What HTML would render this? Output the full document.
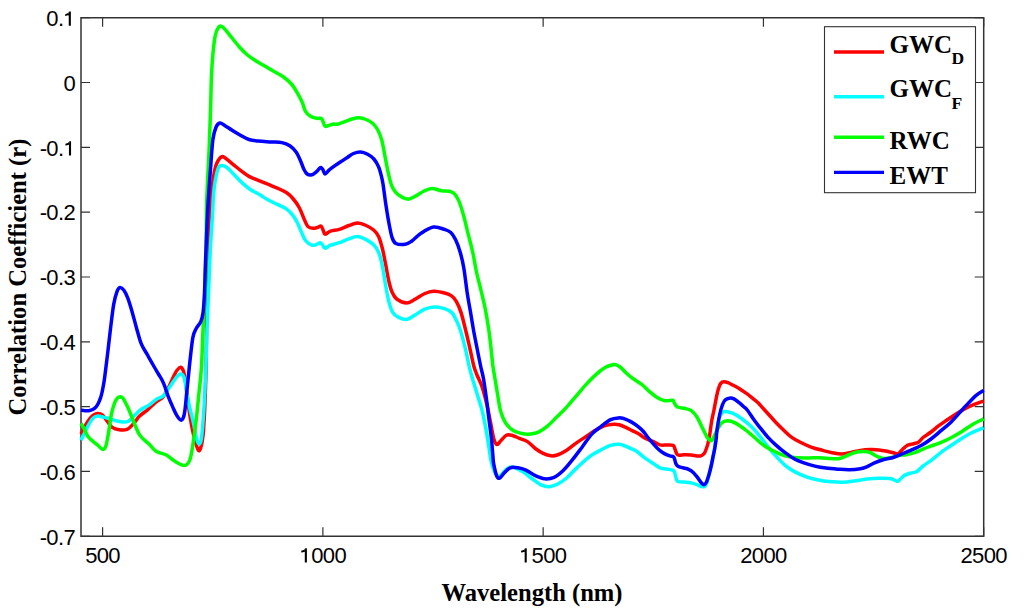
<!DOCTYPE html>
<html><head><meta charset="utf-8"><style>
html,body{margin:0;padding:0;background:#fff;width:1024px;height:612px;overflow:hidden}
svg{display:block}
text{opacity:0.999}
.t{font-family:"Liberation Sans",sans-serif;font-size:22px;fill:#000;letter-spacing:-0.65px}
.b{font-family:"Liberation Serif",serif;font-weight:bold;font-size:25px;fill:#000}
.a{font-family:"Liberation Serif",serif;font-weight:bold;font-size:24.6px;fill:#000}
.s{font-family:"Liberation Serif",serif;font-weight:bold;font-size:17.5px;fill:#000}
</style></head><body>
<svg width="1024" height="612" viewBox="0 0 1024 612">
<rect width="1024" height="612" fill="#fff"/>
<path d="M81.0,17.70h9M983.7,17.70h-9M81.0,82.52h9M983.7,82.52h-9M81.0,147.35h9M983.7,147.35h-9M81.0,212.17h9M983.7,212.17h-9M81.0,277.00h9M983.7,277.00h-9M81.0,341.82h9M983.7,341.82h-9M81.0,406.65h9M983.7,406.65h-9M81.0,471.47h9M983.7,471.47h-9M81.0,536.30h9M983.7,536.30h-9M102.60,536.3v-9M102.60,17.7v9M322.88,536.3v-9M322.88,17.7v9M543.15,536.3v-9M543.15,17.7v9M763.43,536.3v-9M763.43,17.7v9M983.70,536.3v-9M983.70,17.7v9" stroke="#333" stroke-width="1.2" fill="none"/>
<path d="M81.0,17.7H983.7V536.3H81.0Z" stroke="#333" stroke-width="1.5" fill="none"/>
<text x="75" y="26.00" text-anchor="end" class="t">0.<tspan fill="transparent">1</tspan></text>
<text x="75" y="90.82" text-anchor="end" class="t">0</text>
<text x="75" y="155.65" text-anchor="end" class="t">-0.<tspan fill="transparent">1</tspan></text>
<text x="75" y="220.47" text-anchor="end" class="t">-0.2</text>
<text x="75" y="285.30" text-anchor="end" class="t">-0.3</text>
<text x="75" y="350.12" text-anchor="end" class="t">-0.4</text>
<text x="75" y="414.95" text-anchor="end" class="t">-0.5</text>
<text x="75" y="479.77" text-anchor="end" class="t">-0.6</text>
<text x="75" y="544.60" text-anchor="end" class="t">-0.7</text>
<text x="102.60" y="562.8" text-anchor="middle" class="t">500</text>
<text x="322.88" y="562.8" text-anchor="middle" class="t"><tspan fill="transparent">1</tspan>000</text>
<text x="543.15" y="562.8" text-anchor="middle" class="t"><tspan fill="transparent">1</tspan>500</text>
<text x="763.43" y="562.8" text-anchor="middle" class="t">2000</text>
<text x="983.70" y="562.8" text-anchor="middle" class="t">2500</text>
<path fill="#000" d="M68.75,11.60H70.85V25.70H68.75ZM69.20,11.60Q68.20,13.90 65.20,14.20V15.90Q67.40,15.80 68.75,15.00ZM68.95,141.20H71.05V155.40H68.95ZM69.40,141.20Q68.40,143.50 65.40,143.80V145.50Q67.60,145.40 68.95,144.60ZM304.80,548.20H306.90V562.60H304.80ZM305.25,548.20Q304.25,550.50 301.25,550.80V552.50Q303.45,552.40 304.80,551.60ZM524.65,548.20H526.75V562.60H524.65ZM525.10,548.20Q524.10,550.50 521.10,550.80V552.50Q523.30,552.40 524.65,551.60Z"/>
<path d="M81.00,434.20 C81.48,433.22 82.77,430.42 83.90,428.30 C85.03,426.18 86.33,423.62 87.80,421.50 C89.27,419.38 91.07,416.95 92.70,415.60 C94.33,414.25 95.97,413.48 97.60,413.40 C99.23,413.32 100.87,413.75 102.50,415.10 C104.13,416.45 105.77,419.45 107.40,421.50 C109.03,423.55 110.33,426.02 112.30,427.40 C114.27,428.78 116.73,429.47 119.20,429.80 C121.67,430.13 124.75,430.38 127.10,429.40 C129.45,428.42 131.22,426.12 133.30,423.90 C135.38,421.68 137.23,418.45 139.60,416.10 C141.97,413.75 144.68,412.20 147.50,409.80 C150.32,407.40 153.90,403.87 156.50,401.70 C159.10,399.53 160.92,399.53 163.10,396.80 C165.28,394.07 167.57,389.25 169.60,385.30 C171.63,381.35 173.53,376.08 175.30,373.10 C177.07,370.12 178.83,367.68 180.20,367.40 C181.57,367.12 182.55,368.55 183.50,371.40 C184.45,374.25 185.08,378.77 185.90,384.50 C186.72,390.23 187.45,398.98 188.40,405.80 C189.35,412.62 190.52,419.68 191.60,425.40 C192.68,431.12 193.80,436.02 194.90,440.10 C196.00,444.18 197.25,448.55 198.20,449.90 C199.15,451.25 199.78,450.67 200.60,448.20 C201.42,445.73 202.42,441.63 203.10,435.10 C203.78,428.57 204.22,419.85 204.70,409.00 C205.18,398.15 205.70,383.17 206.00,370.00 C206.30,356.83 206.40,343.33 206.50,330.00 C206.60,316.67 206.43,303.33 206.60,290.00 C206.77,276.67 207.02,262.50 207.50,250.00 C207.98,237.50 208.98,223.17 209.50,215.00 C210.02,206.83 209.90,207.57 210.60,201.00 C211.30,194.43 212.65,181.93 213.70,175.60 C214.75,169.27 215.58,166.13 216.90,163.00 C218.22,159.87 220.17,157.58 221.60,156.80 C223.03,156.02 223.55,157.00 225.50,158.30 C227.45,159.60 230.68,162.50 233.30,164.60 C235.92,166.70 238.58,168.93 241.20,170.90 C243.82,172.87 246.13,174.83 249.00,176.40 C251.87,177.97 255.27,179.00 258.40,180.30 C261.53,181.60 264.65,182.90 267.80,184.20 C270.95,185.50 274.15,186.67 277.30,188.10 C280.45,189.53 284.10,191.07 286.70,192.80 C289.30,194.53 290.82,196.05 292.90,198.50 C294.98,200.95 297.37,204.17 299.20,207.50 C301.03,210.83 302.47,215.35 303.90,218.50 C305.33,221.65 306.23,224.77 307.80,226.40 C309.37,228.03 311.60,228.17 313.30,228.30 C315.00,228.43 316.68,227.57 318.00,227.20 C319.32,226.83 320.28,225.45 321.20,226.10 C322.12,226.75 322.85,229.75 323.50,231.10 C324.15,232.45 323.92,234.20 325.10,234.20 C326.28,234.20 328.22,231.90 330.60,231.10 C332.98,230.30 336.37,230.33 339.40,229.40 C342.43,228.47 345.78,226.55 348.80,225.50 C351.82,224.45 354.62,223.10 357.50,223.10 C360.38,223.10 363.37,224.32 366.10,225.50 C368.83,226.68 371.82,228.37 373.90,230.20 C375.98,232.03 377.17,233.37 378.60,236.50 C380.03,239.63 381.32,244.30 382.50,249.00 C383.68,253.70 384.65,259.37 385.70,264.70 C386.75,270.03 387.75,276.45 388.80,281.00 C389.85,285.55 390.68,289.00 392.00,292.00 C393.32,295.00 394.22,297.18 396.70,299.00 C399.18,300.82 403.77,302.90 406.90,302.90 C410.03,302.90 412.50,300.57 415.50,299.00 C418.50,297.43 421.90,294.80 424.90,293.50 C427.90,292.20 430.37,291.33 433.50,291.20 C436.63,291.07 440.68,291.92 443.70,292.70 C446.72,293.48 449.50,294.45 451.60,295.90 C453.70,297.35 454.73,298.65 456.30,301.40 C457.87,304.15 459.45,307.63 461.00,312.40 C462.55,317.17 464.13,324.07 465.60,330.00 C467.07,335.93 468.43,342.00 469.80,348.00 C471.17,354.00 472.60,361.50 473.80,366.00 C475.00,370.50 475.63,371.55 477.00,375.00 C478.37,378.45 480.38,381.88 482.00,386.70 C483.62,391.52 485.27,397.90 486.70,403.90 C488.13,409.90 489.43,416.95 490.60,422.70 C491.77,428.45 492.65,434.77 493.70,438.40 C494.75,442.03 495.72,444.10 496.90,444.50 C498.08,444.90 499.23,442.33 500.80,440.80 C502.37,439.27 504.47,436.22 506.30,435.30 C508.13,434.38 509.58,434.78 511.80,435.30 C514.02,435.82 516.98,437.35 519.60,438.40 C522.22,439.45 524.88,439.92 527.50,441.60 C530.12,443.28 532.70,446.55 535.30,448.50 C537.90,450.45 540.48,452.08 543.10,453.30 C545.72,454.52 548.63,455.52 551.00,455.80 C553.37,456.08 554.68,455.93 557.30,455.00 C559.92,454.07 563.57,452.18 566.70,450.20 C569.83,448.22 572.97,445.32 576.10,443.10 C579.23,440.88 582.37,438.98 585.50,436.90 C588.63,434.82 591.77,432.43 594.90,430.60 C598.03,428.77 601.17,426.95 604.30,425.90 C607.43,424.85 611.23,424.48 613.70,424.30 C616.17,424.12 617.17,424.32 619.10,424.80 C621.03,425.28 623.12,426.23 625.30,427.20 C627.48,428.17 629.92,429.47 632.20,430.60 C634.48,431.73 637.07,432.85 639.00,434.00 C640.93,435.15 642.08,436.47 643.80,437.50 C645.52,438.53 647.47,439.40 649.30,440.20 C651.13,441.00 653.02,441.52 654.80,442.30 C656.58,443.08 658.05,444.43 660.00,444.90 C661.95,445.37 664.32,445.03 666.50,445.10 C668.68,445.17 671.73,444.78 673.10,445.30 C674.47,445.82 674.15,446.90 674.70,448.20 C675.25,449.50 675.78,451.95 676.40,453.10 C677.02,454.25 677.05,454.83 678.40,455.10 C679.75,455.37 682.38,454.73 684.50,454.70 C686.62,454.67 689.05,454.70 691.10,454.90 C693.15,455.10 695.17,455.73 696.80,455.90 C698.43,456.07 699.67,456.30 700.90,455.90 C702.13,455.50 703.32,454.65 704.20,453.50 C705.08,452.35 705.60,450.57 706.20,449.00 C706.80,447.43 707.28,446.10 707.80,444.10 C708.32,442.10 709.00,438.40 709.30,437.00 C709.60,435.60 709.18,438.48 709.60,435.70 C710.02,432.92 711.10,424.42 711.80,420.30 C712.50,416.18 713.17,414.13 713.80,411.00 C714.43,407.87 715.00,404.57 715.60,401.50 C716.20,398.43 716.82,395.05 717.40,392.60 C717.98,390.15 718.52,388.37 719.10,386.80 C719.68,385.23 720.12,384.03 720.90,383.20 C721.68,382.37 722.63,381.90 723.80,381.80 C724.97,381.70 726.33,382.02 727.90,382.60 C729.47,383.18 731.33,384.32 733.20,385.30 C735.07,386.28 737.13,387.32 739.10,388.50 C741.07,389.68 743.03,391.02 745.00,392.40 C746.97,393.78 748.82,395.15 750.90,396.80 C752.98,398.45 755.98,400.95 757.50,402.30 C759.02,403.65 758.28,403.03 760.00,404.90 C761.72,406.77 765.18,410.62 767.80,413.50 C770.42,416.38 773.08,419.45 775.70,422.20 C778.32,424.95 780.88,427.52 783.50,430.00 C786.12,432.48 788.52,435.02 791.40,437.10 C794.28,439.18 797.40,440.80 800.80,442.50 C804.20,444.20 808.15,445.98 811.80,447.30 C815.45,448.62 819.30,449.50 822.70,450.40 C826.10,451.30 829.05,452.10 832.20,452.70 C835.35,453.30 838.47,454.05 841.60,454.00 C844.73,453.95 847.87,453.00 851.00,452.40 C854.13,451.80 857.27,450.87 860.40,450.40 C863.53,449.93 866.67,449.68 869.80,449.60 C872.93,449.52 876.32,449.62 879.20,449.90 C882.08,450.18 884.75,450.82 887.10,451.30 C889.45,451.78 891.48,452.37 893.30,452.80 C895.12,453.23 896.43,454.50 898.00,453.90 C899.57,453.30 901.12,450.63 902.70,449.20 C904.28,447.77 905.67,446.22 907.50,445.30 C909.33,444.38 911.88,444.22 913.70,443.70 C915.52,443.18 916.83,443.23 918.40,442.20 C919.97,441.17 921.00,439.20 923.10,437.50 C925.20,435.80 928.38,433.97 931.00,432.00 C933.62,430.03 936.18,427.67 938.80,425.70 C941.42,423.73 943.82,422.17 946.70,420.20 C949.58,418.23 952.97,415.87 956.10,413.90 C959.23,411.93 962.37,410.02 965.50,408.40 C968.63,406.78 971.88,405.42 974.90,404.20 C977.92,402.98 982.15,401.62 983.60,401.10" stroke="#ff0000" stroke-width="3.5" fill="none" stroke-linejoin="round" stroke-linecap="butt"/>
<path d="M81.00,440.10 C81.65,438.80 83.60,434.92 84.90,432.30 C86.20,429.68 87.50,426.70 88.80,424.40 C90.10,422.10 91.23,419.88 92.70,418.50 C94.17,417.12 95.80,416.33 97.60,416.10 C99.40,415.87 101.37,416.62 103.50,417.10 C105.63,417.58 108.12,418.35 110.40,419.00 C112.68,419.65 115.08,420.50 117.20,421.00 C119.32,421.50 121.30,421.92 123.10,422.00 C124.90,422.08 126.55,422.10 128.00,421.50 C129.45,420.90 129.87,420.22 131.80,418.40 C133.73,416.58 136.73,412.82 139.60,410.60 C142.47,408.38 146.18,407.00 149.00,405.10 C151.82,403.20 154.15,400.72 156.50,399.20 C158.85,397.68 160.92,398.03 163.10,396.00 C165.28,393.97 167.57,389.87 169.60,387.00 C171.63,384.13 173.53,380.98 175.30,378.80 C177.07,376.62 178.70,374.03 180.20,373.90 C181.70,373.77 183.22,374.87 184.30,378.00 C185.38,381.13 185.75,387.53 186.70,392.70 C187.65,397.87 188.90,404.10 190.00,409.00 C191.10,413.90 192.22,417.20 193.30,422.10 C194.38,427.00 195.55,434.73 196.50,438.40 C197.45,442.07 198.18,444.10 199.00,444.10 C199.82,444.10 200.58,444.25 201.40,438.40 C202.22,432.55 203.17,420.40 203.90,409.00 C204.63,397.60 205.28,383.17 205.80,370.00 C206.32,356.83 206.50,344.00 207.00,330.00 C207.50,316.00 208.25,299.33 208.80,286.00 C209.35,272.67 209.68,261.83 210.30,250.00 C210.92,238.17 211.97,224.17 212.50,215.00 C213.03,205.83 213.03,200.78 213.50,195.00 C213.97,189.22 214.48,184.85 215.30,180.30 C216.12,175.75 217.22,170.18 218.40,167.70 C219.58,165.22 220.95,165.40 222.40,165.40 C223.85,165.40 225.02,166.00 227.10,167.70 C229.18,169.40 232.30,172.98 234.90,175.60 C237.50,178.22 240.08,181.05 242.70,183.40 C245.32,185.75 247.80,187.83 250.60,189.70 C253.40,191.57 256.63,192.93 259.50,194.60 C262.37,196.27 264.83,198.07 267.80,199.70 C270.77,201.33 274.15,202.83 277.30,204.40 C280.45,205.97 284.10,207.27 286.70,209.10 C289.30,210.93 291.08,213.05 292.90,215.40 C294.72,217.75 296.15,220.33 297.60,223.20 C299.05,226.07 300.28,229.72 301.60,232.60 C302.92,235.48 303.80,238.40 305.50,240.50 C307.20,242.60 309.97,244.55 311.80,245.20 C313.63,245.85 315.07,244.80 316.50,244.40 C317.93,244.00 319.37,242.67 320.40,242.80 C321.43,242.93 321.92,244.28 322.70,245.20 C323.48,246.12 323.78,248.30 325.10,248.30 C326.42,248.30 328.22,246.13 330.60,245.20 C332.98,244.27 336.37,243.77 339.40,242.70 C342.43,241.63 345.78,239.83 348.80,238.80 C351.82,237.77 354.62,236.37 357.50,236.50 C360.38,236.63 363.37,238.17 366.10,239.60 C368.83,241.03 371.82,243.00 373.90,245.10 C375.98,247.20 377.28,249.20 378.60,252.20 C379.92,255.20 380.88,259.13 381.80,263.10 C382.72,267.07 383.45,272.23 384.10,276.00 C384.75,279.77 384.92,281.47 385.70,285.70 C386.48,289.93 387.63,296.95 388.80,301.40 C389.97,305.85 391.13,309.78 392.70,312.40 C394.27,315.02 395.83,315.93 398.20,317.10 C400.57,318.27 404.02,319.80 406.90,319.40 C409.78,319.00 412.50,316.40 415.50,314.70 C418.50,313.00 421.77,310.50 424.90,309.20 C428.03,307.90 431.17,307.03 434.30,306.90 C437.43,306.77 440.82,307.48 443.70,308.40 C446.58,309.32 449.50,310.43 451.60,312.40 C453.70,314.37 454.85,317.27 456.30,320.20 C457.75,323.13 458.80,325.30 460.30,330.00 C461.80,334.70 463.83,342.40 465.30,348.40 C466.77,354.40 467.90,360.93 469.10,366.00 C470.30,371.07 471.13,374.05 472.50,378.80 C473.87,383.55 475.72,389.27 477.30,394.50 C478.88,399.73 480.57,404.45 482.00,410.20 C483.43,415.95 484.73,422.73 485.90,429.00 C487.07,435.27 488.08,442.23 489.00,447.80 C489.92,453.37 490.35,458.15 491.40,462.40 C492.45,466.65 494.00,470.95 495.30,473.30 C496.60,475.65 497.50,477.02 499.20,476.50 C500.90,475.98 503.40,471.77 505.50,470.20 C507.60,468.63 508.93,466.83 511.80,467.10 C514.67,467.37 519.30,469.85 522.70,471.80 C526.10,473.75 529.05,476.58 532.20,478.80 C535.35,481.02 538.73,483.78 541.60,485.10 C544.47,486.42 546.78,486.83 549.40,486.70 C552.02,486.57 554.42,485.75 557.30,484.30 C560.18,482.85 563.32,480.87 566.70,478.00 C570.08,475.13 573.68,470.75 577.60,467.10 C581.52,463.45 586.27,458.98 590.20,456.10 C594.13,453.22 597.80,451.58 601.20,449.80 C604.60,448.02 607.62,446.32 610.60,445.40 C613.58,444.48 616.65,444.20 619.10,444.30 C621.55,444.40 623.12,445.20 625.30,446.00 C627.48,446.80 630.15,448.10 632.20,449.10 C634.25,450.10 635.55,450.58 637.60,452.00 C639.65,453.42 641.78,455.62 644.50,457.60 C647.22,459.58 651.32,462.20 653.90,463.90 C656.48,465.60 657.90,466.95 660.00,467.80 C662.10,468.65 664.32,468.58 666.50,469.00 C668.68,469.42 671.73,469.68 673.10,470.30 C674.47,470.92 674.15,471.22 674.70,472.70 C675.25,474.18 675.78,477.70 676.40,479.20 C677.02,480.70 677.05,481.22 678.40,481.70 C679.75,482.18 682.38,481.90 684.50,482.10 C686.62,482.30 689.05,482.48 691.10,482.90 C693.15,483.32 695.03,483.98 696.80,484.60 C698.57,485.22 700.40,486.27 701.70,486.60 C703.00,486.93 703.78,487.15 704.60,486.60 C705.42,486.05 705.85,485.35 706.60,483.30 C707.35,481.25 708.28,477.43 709.10,474.30 C709.92,471.17 710.68,468.17 711.50,464.50 C712.32,460.83 713.32,456.38 714.00,452.30 C714.68,448.22 714.90,445.05 715.60,440.00 C716.30,434.95 717.38,426.17 718.20,422.00 C719.02,417.83 719.45,416.75 720.50,415.00 C721.55,413.25 722.52,411.80 724.50,411.50 C726.48,411.20 729.52,412.00 732.40,413.20 C735.28,414.40 738.67,416.47 741.80,418.70 C744.93,420.93 748.17,423.67 751.20,426.60 C754.23,429.53 757.23,432.98 760.00,436.30 C762.77,439.62 765.18,443.23 767.80,446.50 C770.42,449.77 772.82,452.77 775.70,455.90 C778.58,459.03 781.97,462.68 785.10,465.30 C788.23,467.92 790.83,469.63 794.50,471.60 C798.17,473.57 802.92,475.67 807.10,477.10 C811.28,478.53 815.42,479.42 819.60,480.20 C823.78,480.98 828.28,481.47 832.20,481.80 C836.12,482.13 839.45,482.33 843.10,482.20 C846.75,482.07 850.17,481.52 854.10,481.00 C858.03,480.48 862.52,479.57 866.70,479.10 C870.88,478.63 875.28,478.28 879.20,478.20 C883.12,478.12 887.32,478.13 890.20,478.60 C893.08,479.07 895.07,480.65 896.50,481.00 C897.93,481.35 897.50,481.62 898.80,480.70 C900.10,479.78 902.33,476.77 904.30,475.50 C906.27,474.23 908.50,473.75 910.60,473.10 C912.70,472.45 914.82,472.78 916.90,471.60 C918.98,470.42 920.50,468.03 923.10,466.00 C925.70,463.97 929.35,461.80 932.50,459.40 C935.65,457.00 938.85,453.95 942.00,451.60 C945.15,449.25 948.27,447.40 951.40,445.30 C954.53,443.20 957.67,440.97 960.80,439.00 C963.93,437.03 966.40,435.38 970.20,433.50 C974.00,431.62 981.37,428.67 983.60,427.70" stroke="#00ffff" stroke-width="3.5" fill="none" stroke-linejoin="round" stroke-linecap="butt"/>
<path d="M81.00,423.40 C81.48,424.22 82.77,426.17 83.90,428.30 C85.03,430.43 86.33,434.07 87.80,436.20 C89.27,438.33 91.07,439.63 92.70,441.10 C94.33,442.57 95.97,443.62 97.60,445.00 C99.23,446.38 101.18,449.07 102.50,449.40 C103.82,449.73 104.68,448.72 105.50,447.00 C106.32,445.28 106.75,442.37 107.40,439.10 C108.05,435.83 108.75,431.48 109.40,427.40 C110.05,423.32 110.48,418.53 111.30,414.60 C112.12,410.67 113.32,406.50 114.30,403.80 C115.28,401.10 116.22,399.57 117.20,398.40 C118.18,397.23 119.22,396.80 120.20,396.80 C121.18,396.80 122.13,397.23 123.10,398.40 C124.07,399.57 125.08,402.03 126.00,403.80 C126.92,405.57 127.38,406.17 128.60,409.00 C129.82,411.83 131.47,416.48 133.30,420.80 C135.13,425.12 137.23,431.25 139.60,434.90 C141.97,438.55 145.77,441.02 147.50,442.70 C149.23,444.38 148.50,443.53 150.00,445.00 C151.50,446.47 153.78,449.83 156.50,451.50 C159.22,453.17 163.37,453.45 166.30,455.00 C169.23,456.55 171.10,459.05 174.10,460.80 C177.10,462.55 181.68,465.63 184.30,465.50 C186.92,465.37 188.30,463.97 189.80,460.00 C191.30,456.03 192.18,448.83 193.30,441.70 C194.42,434.57 195.55,425.37 196.50,417.20 C197.45,409.03 198.18,400.87 199.00,392.70 C199.82,384.53 200.73,378.65 201.40,368.20 C202.07,357.75 202.48,341.37 203.00,330.00 C203.52,318.63 204.08,307.67 204.50,300.00 C204.92,292.33 205.22,294.00 205.50,284.00 C205.78,274.00 206.00,253.83 206.20,240.00 C206.40,226.17 206.23,215.67 206.70,201.00 C207.17,186.33 208.35,167.50 209.00,152.00 C209.65,136.50 210.20,120.38 210.60,108.00 C211.00,95.62 211.02,86.67 211.40,77.70 C211.78,68.73 212.25,61.25 212.90,54.20 C213.55,47.15 214.38,39.85 215.30,35.40 C216.22,30.95 217.35,29.02 218.40,27.50 C219.45,25.98 220.42,25.90 221.60,26.30 C222.78,26.70 223.80,28.00 225.50,29.90 C227.20,31.80 229.45,34.82 231.80,37.70 C234.15,40.58 236.98,44.32 239.60,47.20 C242.22,50.08 244.88,52.78 247.50,55.00 C250.12,57.22 252.43,58.67 255.30,60.50 C258.17,62.33 261.57,64.17 264.70,66.00 C267.83,67.83 270.97,69.67 274.10,71.50 C277.23,73.33 280.62,74.92 283.50,77.00 C286.38,79.08 289.05,81.27 291.40,84.00 C293.75,86.73 295.77,90.27 297.60,93.40 C299.43,96.53 301.08,99.82 302.40,102.80 C303.72,105.78 304.20,109.10 305.50,111.30 C306.80,113.50 308.37,114.83 310.20,116.00 C312.03,117.17 314.67,117.92 316.50,118.30 C318.33,118.68 320.17,117.90 321.20,118.30 C322.23,118.70 322.05,119.38 322.70,120.70 C323.35,122.02 324.05,125.42 325.10,126.20 C326.15,126.98 327.57,125.75 329.00,125.40 C330.43,125.05 332.23,124.30 333.70,124.10 C335.17,123.90 335.80,124.65 337.80,124.20 C339.80,123.75 343.33,122.27 345.70,121.40 C348.07,120.53 349.78,119.60 352.00,119.00 C354.22,118.40 356.65,117.72 359.00,117.80 C361.35,117.88 363.75,118.52 366.10,119.50 C368.45,120.48 371.15,121.95 373.10,123.70 C375.05,125.45 376.35,127.25 377.80,130.00 C379.25,132.75 380.62,135.88 381.80,140.20 C382.98,144.52 383.87,150.67 384.90,155.90 C385.93,161.13 387.07,167.25 388.00,171.60 C388.93,175.95 389.72,179.30 390.50,182.00 C391.28,184.70 391.53,185.78 392.70,187.80 C393.87,189.82 395.02,192.22 397.50,194.10 C399.98,195.98 404.73,198.70 407.60,199.10 C410.47,199.50 411.95,197.85 414.70,196.50 C417.45,195.15 421.22,192.32 424.10,191.00 C426.98,189.68 429.12,188.65 432.00,188.60 C434.88,188.55 438.53,190.25 441.40,190.70 C444.27,191.15 447.12,190.87 449.20,191.30 C451.28,191.73 452.33,191.78 453.90,193.30 C455.47,194.82 457.03,196.87 458.60,200.40 C460.17,203.93 461.73,209.02 463.30,214.50 C464.87,219.98 466.43,227.02 468.00,233.30 C469.57,239.58 471.28,245.75 472.70,252.20 C474.12,258.65 475.12,265.63 476.50,272.00 C477.88,278.37 479.53,284.20 481.00,290.40 C482.47,296.60 484.00,302.60 485.30,309.20 C486.60,315.80 487.85,323.53 488.80,330.00 C489.75,336.47 490.32,342.00 491.00,348.00 C491.68,354.00 492.32,361.38 492.90,366.00 C493.48,370.62 493.72,370.95 494.50,375.70 C495.28,380.45 496.55,388.48 497.60,394.50 C498.65,400.52 499.48,407.10 500.80,411.80 C502.12,416.50 503.42,419.57 505.50,422.70 C507.58,425.83 510.43,428.77 513.30,430.60 C516.17,432.43 519.82,433.13 522.70,433.70 C525.58,434.27 527.98,434.25 530.60,434.00 C533.22,433.75 535.53,433.55 538.40,432.20 C541.27,430.85 544.65,428.52 547.80,425.90 C550.95,423.28 554.15,419.63 557.30,416.50 C560.45,413.37 563.57,410.50 566.70,407.10 C569.83,403.70 572.97,399.77 576.10,396.10 C579.23,392.43 582.10,388.77 585.50,385.10 C588.90,381.43 593.10,377.10 596.50,374.10 C599.90,371.10 603.17,368.67 605.90,367.10 C608.63,365.53 611.30,365.12 612.90,364.70 C614.50,364.28 614.28,364.22 615.50,364.60 C616.72,364.98 618.50,365.68 620.20,367.00 C621.90,368.32 623.73,370.68 625.70,372.50 C627.67,374.32 629.38,375.95 632.00,377.90 C634.62,379.85 638.53,381.97 641.40,384.20 C644.27,386.43 646.58,389.08 649.20,391.30 C651.82,393.52 654.48,395.93 657.10,397.50 C659.72,399.07 662.30,400.25 664.90,400.70 C667.50,401.15 671.13,399.82 672.70,400.20 C674.27,400.58 673.50,401.87 674.30,403.00 C675.10,404.13 675.67,406.08 677.50,407.00 C679.33,407.92 682.95,407.85 685.30,408.50 C687.65,409.15 689.63,409.45 691.60,410.90 C693.57,412.35 695.28,414.33 697.10,417.20 C698.92,420.07 700.80,424.72 702.50,428.10 C704.20,431.48 705.97,435.43 707.30,437.50 C708.63,439.57 709.63,440.17 710.50,440.50 C711.37,440.83 711.47,441.08 712.50,439.50 C713.53,437.92 715.22,433.73 716.70,431.00 C718.18,428.27 719.58,424.80 721.40,423.10 C723.22,421.40 725.25,420.80 727.60,420.80 C729.95,420.80 732.62,421.67 735.50,423.10 C738.38,424.53 741.77,427.03 744.90,429.40 C748.03,431.77 751.78,435.12 754.30,437.30 C756.82,439.48 757.75,440.72 760.00,442.50 C762.25,444.28 765.18,446.42 767.80,448.00 C770.42,449.58 772.82,450.68 775.70,452.00 C778.58,453.32 781.97,454.98 785.10,455.90 C788.23,456.82 790.83,457.17 794.50,457.50 C798.17,457.83 802.92,457.85 807.10,457.90 C811.28,457.95 815.68,457.70 819.60,457.80 C823.52,457.90 827.47,458.35 830.60,458.50 C833.73,458.65 836.05,459.00 838.40,458.70 C840.75,458.40 842.08,457.70 844.70,456.70 C847.32,455.70 850.97,453.57 854.10,452.70 C857.23,451.83 860.88,451.55 863.50,451.50 C866.12,451.45 867.45,451.53 869.80,452.40 C872.15,453.27 875.25,455.68 877.60,456.70 C879.95,457.72 881.53,458.37 883.90,458.50 C886.27,458.63 888.92,458.07 891.80,457.50 C894.68,456.93 898.85,455.57 901.20,455.10 C903.55,454.63 903.55,455.15 905.90,454.70 C908.25,454.25 912.17,453.45 915.30,452.40 C918.43,451.35 921.57,449.63 924.70,448.40 C927.83,447.17 930.97,446.17 934.10,445.00 C937.23,443.83 940.37,442.78 943.50,441.40 C946.63,440.02 949.75,438.40 952.90,436.70 C956.05,435.00 959.25,433.17 962.40,431.20 C965.55,429.23 968.27,426.95 971.80,424.90 C975.33,422.85 981.63,419.90 983.60,418.90" stroke="#00ff00" stroke-width="3.5" fill="none" stroke-linejoin="round" stroke-linecap="butt"/>
<path d="M81.00,410.20 C81.65,410.28 83.60,410.62 84.90,410.70 C86.20,410.78 87.50,410.90 88.80,410.70 C90.10,410.50 91.48,410.15 92.70,409.50 C93.92,408.85 95.12,407.92 96.10,406.80 C97.08,405.68 97.87,404.28 98.60,402.80 C99.33,401.32 99.93,399.62 100.50,397.90 C101.07,396.18 101.37,395.48 102.00,392.50 C102.63,389.52 103.38,386.32 104.30,380.00 C105.22,373.68 106.45,363.28 107.50,354.60 C108.55,345.92 109.57,336.27 110.60,327.90 C111.63,319.53 112.65,310.42 113.70,304.40 C114.75,298.38 115.85,294.62 116.90,291.80 C117.95,288.98 118.83,287.75 120.00,287.50 C121.17,287.25 122.60,288.53 123.90,290.30 C125.20,292.07 126.48,294.70 127.80,298.10 C129.12,301.50 130.35,305.73 131.80,310.70 C133.25,315.67 134.93,322.42 136.50,327.90 C138.07,333.38 139.37,339.08 141.20,343.60 C143.03,348.12 145.42,351.27 147.50,355.00 C149.58,358.73 151.88,362.83 153.70,366.00 C155.52,369.17 157.02,371.67 158.40,374.00 C159.78,376.33 160.95,377.98 162.00,380.00 C163.05,382.02 163.70,383.45 164.70,386.10 C165.70,388.75 166.63,392.35 168.00,395.90 C169.37,399.45 171.42,404.12 172.90,407.40 C174.38,410.68 175.55,413.48 176.90,415.60 C178.25,417.72 179.90,419.83 181.00,420.10 C182.10,420.37 182.82,419.05 183.50,417.20 C184.18,415.35 184.57,413.08 185.10,409.00 C185.63,404.92 186.15,398.15 186.70,392.70 C187.25,387.25 187.80,382.08 188.40,376.30 C189.00,370.52 189.55,364.50 190.30,358.00 C191.05,351.50 191.93,342.18 192.90,337.30 C193.87,332.42 194.78,331.32 196.10,328.70 C197.42,326.08 199.63,324.35 200.80,321.60 C201.97,318.85 202.48,316.97 203.10,312.20 C203.72,307.43 204.15,300.03 204.50,293.00 C204.85,285.97 204.95,277.17 205.20,270.00 C205.45,262.83 205.70,257.50 206.00,250.00 C206.30,242.50 206.63,233.17 207.00,225.00 C207.37,216.83 207.60,210.55 208.20,201.00 C208.80,191.45 209.82,177.95 210.60,167.70 C211.38,157.45 211.98,146.28 212.90,139.50 C213.82,132.72 214.92,129.75 216.10,127.00 C217.28,124.25 218.57,123.27 220.00,123.00 C221.43,122.73 222.73,124.22 224.70,125.40 C226.67,126.58 229.32,128.53 231.80,130.10 C234.28,131.67 236.73,133.23 239.60,134.80 C242.47,136.37 245.87,138.45 249.00,139.50 C252.13,140.55 254.73,140.70 258.40,141.10 C262.07,141.50 267.07,141.65 271.00,141.90 C274.93,142.15 278.87,141.95 282.00,142.60 C285.13,143.25 287.45,144.22 289.80,145.80 C292.15,147.38 294.27,149.48 296.10,152.10 C297.93,154.72 299.50,158.63 300.80,161.50 C302.10,164.37 302.85,167.22 303.90,169.30 C304.95,171.38 305.78,173.08 307.10,174.00 C308.42,174.92 310.23,175.18 311.80,174.80 C313.37,174.42 315.07,172.88 316.50,171.70 C317.93,170.52 319.37,168.10 320.40,167.70 C321.43,167.30 321.92,168.25 322.70,169.30 C323.48,170.35 324.05,173.87 325.10,174.00 C326.15,174.13 327.30,171.53 329.00,170.10 C330.70,168.67 333.47,166.70 335.30,165.40 C337.13,164.10 338.00,163.62 340.00,162.30 C342.00,160.98 345.05,158.97 347.30,157.50 C349.55,156.03 351.28,154.42 353.50,153.50 C355.72,152.58 358.25,151.87 360.60,152.00 C362.95,152.13 365.38,153.13 367.60,154.30 C369.82,155.47 372.07,156.90 373.90,159.00 C375.73,161.10 377.28,163.77 378.60,166.90 C379.92,170.03 381.02,174.62 381.80,177.80 C382.58,180.98 382.65,181.72 383.30,186.00 C383.95,190.28 384.78,197.43 385.70,203.50 C386.62,209.57 387.75,216.77 388.80,222.40 C389.85,228.03 390.82,233.78 392.00,237.30 C393.18,240.82 393.68,242.33 395.90,243.50 C398.12,244.67 402.68,244.68 405.30,244.30 C407.92,243.92 408.98,243.03 411.60,241.20 C414.22,239.37 417.35,235.65 421.00,233.30 C424.65,230.95 429.58,227.75 433.50,227.10 C437.42,226.45 441.62,228.50 444.50,229.40 C447.38,230.30 448.97,230.80 450.80,232.50 C452.63,234.20 453.93,236.32 455.50,239.60 C457.07,242.88 458.82,247.47 460.20,252.20 C461.58,256.93 462.62,261.12 463.80,268.00 C464.98,274.88 466.18,286.17 467.30,293.50 C468.42,300.83 469.47,305.92 470.50,312.00 C471.53,318.08 472.42,324.00 473.50,330.00 C474.58,336.00 475.82,342.00 477.00,348.00 C478.18,354.00 479.52,360.87 480.60,366.00 C481.68,371.13 482.48,373.00 483.50,378.80 C484.52,384.60 485.78,394.00 486.70,400.80 C487.62,407.60 488.22,413.33 489.00,419.60 C489.78,425.87 490.75,432.33 491.40,438.40 C492.05,444.47 492.52,451.75 492.90,456.00 C493.28,460.25 493.03,460.48 493.70,463.90 C494.37,467.32 495.85,474.15 496.90,476.50 C497.95,478.85 498.83,478.53 500.00,478.00 C501.17,477.47 502.20,475.00 503.90,473.30 C505.60,471.60 507.85,468.72 510.20,467.80 C512.55,466.88 515.38,467.40 518.00,467.80 C520.62,468.20 523.02,468.88 525.90,470.20 C528.78,471.52 532.17,474.27 535.30,475.70 C538.43,477.13 541.57,478.53 544.70,478.80 C547.83,479.07 550.97,478.73 554.10,477.30 C557.23,475.87 560.37,473.22 563.50,470.20 C566.63,467.18 569.75,463.12 572.90,459.20 C576.05,455.28 579.25,450.88 582.40,446.70 C585.55,442.52 588.67,437.50 591.80,434.10 C594.93,430.70 598.07,428.72 601.20,426.30 C604.33,423.88 607.70,421.00 610.60,419.60 C613.50,418.20 616.38,418.07 618.60,417.90 C620.82,417.73 622.22,418.15 623.90,418.60 C625.58,419.05 626.98,419.75 628.70,420.60 C630.42,421.45 632.37,422.50 634.20,423.70 C636.03,424.90 638.10,426.42 639.70,427.80 C641.30,429.18 642.43,430.38 643.80,432.00 C645.17,433.62 646.52,435.78 647.90,437.50 C649.28,439.22 650.72,440.70 652.10,442.30 C653.48,443.90 654.88,445.72 656.20,447.10 C657.52,448.48 658.55,449.47 660.00,450.60 C661.45,451.73 663.27,453.02 664.90,453.90 C666.53,454.78 668.37,455.42 669.80,455.90 C671.23,456.38 672.68,456.18 673.50,456.80 C674.32,457.42 674.30,458.45 674.70,459.60 C675.10,460.75 675.35,462.60 675.90,463.70 C676.45,464.80 676.83,465.52 678.00,466.20 C679.17,466.88 681.13,467.27 682.90,467.80 C684.67,468.33 686.83,468.58 688.60,469.40 C690.37,470.22 692.00,471.33 693.50,472.70 C695.00,474.07 696.23,475.83 697.60,477.60 C698.97,479.37 700.60,482.13 701.70,483.30 C702.80,484.47 703.38,484.87 704.20,484.60 C705.02,484.33 705.78,483.42 706.60,481.70 C707.42,479.98 708.28,477.17 709.10,474.30 C709.92,471.43 710.83,467.48 711.50,464.50 C712.17,461.52 712.55,459.12 713.10,456.40 C713.65,453.68 714.27,451.27 714.80,448.20 C715.33,445.13 715.98,440.62 716.30,438.00 C716.62,435.38 716.15,436.33 716.70,432.50 C717.25,428.67 718.62,419.68 719.60,415.00 C720.58,410.32 721.60,406.95 722.60,404.40 C723.60,401.85 724.32,400.78 725.60,399.70 C726.88,398.62 728.83,398.00 730.30,397.90 C731.77,397.80 732.93,398.32 734.40,399.10 C735.87,399.88 737.53,401.32 739.10,402.60 C740.67,403.88 742.42,405.52 743.80,406.80 C745.18,408.08 745.65,408.05 747.40,410.30 C749.15,412.55 752.20,417.42 754.30,420.30 C756.40,423.18 757.75,424.80 760.00,427.60 C762.25,430.40 765.18,434.22 767.80,437.10 C770.42,439.98 772.82,442.30 775.70,444.90 C778.58,447.50 781.97,450.35 785.10,452.70 C788.23,455.05 791.37,457.30 794.50,459.00 C797.63,460.70 800.50,461.72 803.90,462.90 C807.30,464.08 811.23,465.23 814.90,466.10 C818.57,466.97 821.98,467.58 825.90,468.10 C829.82,468.62 834.48,468.93 838.40,469.20 C842.32,469.47 845.73,469.78 849.40,469.70 C853.07,469.62 857.52,469.17 860.40,468.70 C863.28,468.23 864.35,467.87 866.70,466.90 C869.05,465.93 871.63,464.13 874.50,462.90 C877.37,461.67 880.77,460.40 883.90,459.50 C887.03,458.60 890.42,458.37 893.30,457.50 C896.18,456.63 898.32,455.48 901.20,454.30 C904.08,453.12 907.20,451.90 910.60,450.40 C914.00,448.90 918.20,447.20 921.60,445.30 C925.00,443.40 927.87,441.35 931.00,439.00 C934.13,436.65 937.27,433.82 940.40,431.20 C943.53,428.58 946.67,426.32 949.80,423.30 C952.93,420.28 956.07,416.50 959.20,413.10 C962.33,409.70 965.72,405.90 968.60,402.90 C971.48,399.90 974.00,397.18 976.50,395.10 C979.00,393.02 982.42,391.18 983.60,390.40" stroke="#0000ff" stroke-width="3.5" fill="none" stroke-linejoin="round" stroke-linecap="butt"/>
<rect x="824.5" y="26.7" width="151" height="166" fill="#fff" stroke="#333" stroke-width="1.1"/>
<path d="M834,52.0H884" stroke="#ff0000" stroke-width="3.4"/>
<text x="889.5" y="52.8" class="b">GWC</text>
<text x="951.5" y="64.2" class="s">D</text>
<path d="M834,96.7H884" stroke="#00ffff" stroke-width="3.4"/>
<text x="889.5" y="97.3" class="b">GWC</text>
<text x="951.5" y="109.4" class="s">F</text>
<path d="M834,137.3H884" stroke="#00ff00" stroke-width="3.4"/>
<text x="889.5" y="148.6" class="b">RWC</text>
<path d="M834,172.4H884" stroke="#0000ff" stroke-width="3.4"/>
<text x="889.5" y="184.2" class="b">EWT</text>
<text x="532" y="600.5" text-anchor="middle" class="a">Wavelength (nm)</text>
<text transform="translate(26,277) rotate(-90)" text-anchor="middle" class="a">Correlation Coefficient (r)</text>
</svg>
</body></html>
